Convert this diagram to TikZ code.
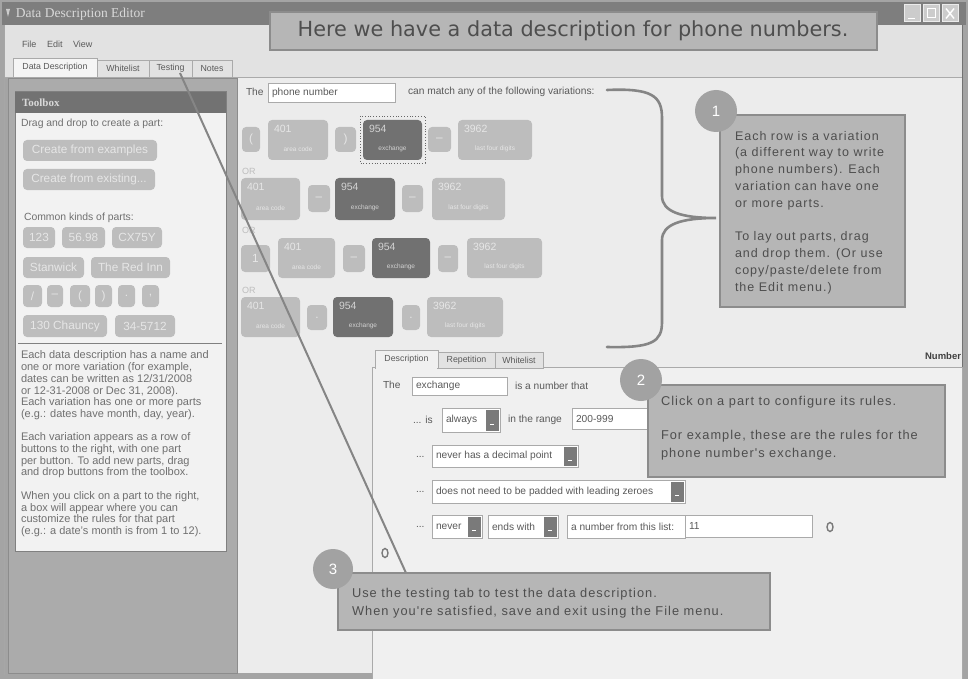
\documentclass[tikz,border=0pt]{standalone}
\usepackage{fontspec}
\setmainfont{Liberation Sans}
\newfontfamily\callfont[LetterSpace=8]{Liberation Sans}
\newfontfamily\titlefont{DejaVu Sans}
\newfontfamily\winfont{Liberation Serif}
\usetikzlibrary{calc,shapes.geometric}
\definecolor{bgmain}{HTML}{ECECEC}
\definecolor{winborder}{HTML}{A4A4A4}
\definecolor{titlebar}{HTML}{7E7E7E}
\definecolor{menubar}{HTML}{E2E2E2}
\definecolor{leftpanel}{HTML}{ABABAB}
\definecolor{toolbg}{HTML}{F2F2F2}
\definecolor{toolhead}{HTML}{727272}
\definecolor{btnL}{HTML}{BDBDBD}
\definecolor{btnLT}{HTML}{E6E6E6}
\definecolor{btnD}{HTML}{717171}
\definecolor{btnDT}{HTML}{D2D2D2}
\definecolor{uitext}{HTML}{5A5A5A}
\definecolor{paratext}{HTML}{707070}
\definecolor{boxdraw}{HTML}{AAAAAA}
\definecolor{ddgray}{HTML}{7A7A7A}
\definecolor{callfill}{HTML}{B6B6B6}
\definecolor{calldraw}{HTML}{8C8C8C}
\definecolor{circfill}{HTML}{A2A2A2}
\definecolor{calltxt}{HTML}{4E4E4E}
\definecolor{linegray}{HTML}{858585}
\definecolor{panelbg}{HTML}{F0F0F0}

\newcommand\pbtn[7]{\node[#2, anchor=north west, minimum width=#5pt, minimum height=#6pt] (#1) at (#3,#4) {#7};}
\newcommand\phpart[8]{%
  \pbtn{#1}{#2}{#3}{#4}{#5}{#6}{}
  \node[#2txt, anchor=north west, font=\fontsize{10.5}{11}\selectfont] at ([shift={(6pt,-5pt)}]#1.north west) {#7};
  \node[#2txt, font=\fontsize{6.5}{7}\selectfont] at ([shift={(0pt,-9pt)}]#1.center) {#8};}
\newcommand\ddown[6]{%
  \node[tbox, anchor=north west, minimum width={(#4-#2)*1pt}, minimum height={(#5-#3)*1pt}] (#1) at (#2,#3) {};
  \node[ui] at ([xshift=4pt]#1.west) {#6};
  \node[fill=ddgray, anchor=east, minimum width=13pt, minimum height={(#5-#3-3)*1pt}] (#1b) at ([xshift=-1.5pt]#1.east) {};
  \draw[white, line width=1pt] ([shift={(-2pt,-4pt)}]#1b.center) -- ++(4pt,0);}

\begin{document}
\begin{tikzpicture}[x=1pt,y=-1pt,
  every node/.style={inner sep=0pt, outer sep=0pt},
  lbtn/.style={fill=btnL, rounded corners=4pt, text=btnLT, font=\fontsize{11.8}{12}\selectfont},
  lbtntxt/.style={text=btnLT},
  dbtn/.style={fill=btnD, rounded corners=4pt, text=btnDT},
  dbtntxt/.style={text=btnDT},
  ui/.style={font=\fontsize{10.2}{11}\selectfont, text=uitext, anchor=west},
  tbox/.style={fill=white, draw=boxdraw, line width=0.6pt},
  tabsty/.style={draw=boxdraw, fill=menubar, font=\fontsize{8.8}{10}\selectfont, text=uitext, anchor=north west},
  callbox/.style={fill=callfill, draw=calldraw, line width=2.2pt, anchor=north west},
  callnum/.style={circle, fill=circfill, minimum size=42pt, text=white, font=\fontsize{15}{15}\selectfont},
  calltext/.style={font=\callfont\fontsize{12.5}{16.8}\selectfont, text=calltxt, align=left, anchor=north west},
  ortext/.style={font=\fontsize{9}{10}\selectfont, text=btnL, anchor=west},
  iconring/.style={ellipse, draw=ddgray, line width=1.4pt, minimum width=6pt, minimum height=9pt},
  winbtn/.style={fill=white!80!black, draw=white!92!black, line width=1pt, minimum width=16pt, minimum height=17pt, anchor=north west}
]
\useasboundingbox (0,0) rectangle (968,679);
% window frame
\fill[winborder] (0,0) rectangle (968,679);
\fill[titlebar] (2,2) rectangle (966,25);
\node[anchor=west, text=white!85!black, font=\winfont\fontsize{13.5}{14}\selectfont] (wintitle) at (16,14) {Data Description Editor};
\fill[white!80!black] (6,9) -- (10,9) -- (8,17) -- cycle;
\node[winbtn] (wb0) at (904,5) {};
\node[winbtn] (wb1) at (923,5) {};
\node[winbtn] (wb2) at (942,5) {};
\draw[white, line width=1.5pt] ([shift={(-4pt,-5pt)}]wb0.center) -- ++(7pt,0);
\draw[white, line width=1pt] ([shift={(-4pt,-4pt)}]wb1.center) rectangle ([shift={(4pt,5pt)}]wb1.center);
\draw[white, line width=1.4pt] ([shift={(-4pt,-5pt)}]wb2.center) -- ([shift={(4pt,5pt)}]wb2.center) ([shift={(-4pt,5pt)}]wb2.center) -- ([shift={(4pt,-5pt)}]wb2.center);
\fill[menubar] (5,25) rectangle (963,77);
\node[ui, font=\fontsize{9}{10}\selectfont] (mfile) at (22,44) {File};
\node[ui, font=\fontsize{9}{10}\selectfont] (medit) at (47,44) {Edit};
\node[ui, font=\fontsize{9}{10}\selectfont] (mview) at (73,44) {View};
% tabs
\node[tabsty, fill=white!96!black, minimum width=84pt, minimum height=19pt] (tDD) at (13,58) {Data Description};
\node[tabsty, minimum width=52pt, minimum height=17pt] (tWL) at (97,60) {Whitelist};
\node[tabsty, minimum width=43pt, minimum height=17pt] (tTest) at (149,60) {Testing};
\node[tabsty, minimum width=40pt, minimum height=17pt] (tNotes) at (192,60) {Notes};
% main area
\fill[bgmain] (237,77) rectangle (962,673);
\draw[boxdraw] (5,77) -- (962,77);
\draw[black!55, line width=1pt] (962,25) -- (962,673);
% left panel
\fill[leftpanel] (8,78) rectangle (237,673);
\draw[black!45] (8,78) rectangle (237,673);
\draw[black!35, line width=0.8pt] (4,25) -- (4,675);
% toolbox
\node[fill=toolbg, draw=black!50, line width=1pt, anchor=north west, minimum width=211pt, minimum height=459pt] (toolbox) at (15,92) {};
\node[fill=toolhead, anchor=north west, minimum width=211pt, minimum height=21pt] (toolhead) at (15,92) {};
\node[anchor=west, text=white!85!black, font=\winfont\bfseries\fontsize{11}{12}\selectfont] (toollbl) at (22,103) {Toolbox};
\node[ui, text=paratext, font=\fontsize{10.4}{11}\selectfont] (dragl) at (21,124) {Drag and drop to create a part:};
\pbtn{cfe}{lbtn}{23}{140}{134}{21}{Create from examples}
\pbtn{cfx}{lbtn}{23}{169}{132}{21}{Create from existing...}
\node[ui, text=paratext, font=\fontsize{10.4}{11}\selectfont] (commonl) at (24,218) {Common kinds of parts:};
\pbtn{k1}{lbtn}{23}{227}{32}{21}{123}
\pbtn{k2}{lbtn}{62}{227}{43}{21}{56.98}
\pbtn{k3}{lbtn}{112}{227}{50}{21}{CX75Y}
\pbtn{k4}{lbtn}{23}{257}{61}{21}{Stanwick}
\pbtn{k5}{lbtn}{91}{257}{79}{21}{The Red Inn}
\pbtn{s1}{lbtn}{23}{285}{19}{22}{/}
\pbtn{s2}{lbtn}{47}{285}{16}{22}{--}
\pbtn{s3}{lbtn}{70}{285}{20}{22}{(}
\pbtn{s4}{lbtn}{95}{285}{17}{22}{)}
\pbtn{s5}{lbtn}{118}{285}{17}{22}{.}
\pbtn{s6}{lbtn}{142}{285}{17}{22}{,}
\pbtn{k6}{lbtn}{23}{315}{84}{22}{130 Chauncy}
\pbtn{k7}{lbtn}{115}{315}{60}{22}{34-5712}
\draw[black!50, line width=0.8pt] (18,343) -- (222,343);
\node[anchor=north west, align=left, text=paratext, font=\fontsize{11}{11.7}\selectfont] (para) at (21,351) {Each data description has a name and\\one or more variation (for example,\\dates can be written as 12/31/2008\\or 12-31-2008 or Dec 31, 2008).\\Each variation has one or more parts\\(e.g.: dates have month, day, year).\\[11.7pt]Each variation appears as a row of\\buttons to the right, with one part\\per button. To add new parts, drag\\and drop buttons from the toolbox.\\[11.7pt]When you click on a part to the right,\\a box will appear where you can\\customize the rules for that part\\(e.g.: a date's month is from 1 to 12).};
% header line of variations
\node[ui] (thel) at (246,92) {The};
\node[tbox, anchor=north west, minimum width=127pt, minimum height=19pt] (namebox) at (268,83) {};
\node[ui] (namel) at ([xshift=4pt]namebox.west) {phone number};
\node[ui] (matchl) at (408,92) {can match any of the following variations:};
% row 1
\pbtn{r1a}{lbtn}{242}{127}{18}{25}{(}
\phpart{r1b}{lbtn}{268}{120}{60}{40}{401}{area code}
\pbtn{r1c}{lbtn}{335}{127}{21}{25}{)}
\phpart{r1d}{dbtn}{363}{120}{59}{40}{954}{exchange}
\draw[black!60, dotted, line width=0.8pt] (360,116) rectangle (425,163);
\pbtn{r1e}{lbtn}{428}{127}{23}{25}{--}
\phpart{r1f}{lbtn}{458}{120}{74}{40}{3962}{last four digits}
\node[ortext] (or1) at (242,171) {OR};
% row 2
\phpart{r2a}{lbtn}{241}{178}{59}{42}{401}{area code}
\pbtn{r2b}{lbtn}{308}{185}{22}{27}{--}
\phpart{r2c}{dbtn}{335}{178}{60}{42}{954}{exchange}
\pbtn{r2d}{lbtn}{402}{185}{21}{27}{--}
\phpart{r2e}{lbtn}{432}{178}{73}{42}{3962}{last four digits}
\node[ortext] (or2) at (242,230) {OR};
% row 3
\pbtn{r3a}{lbtn}{241}{245}{29}{27}{1}
\phpart{r3b}{lbtn}{278}{238}{57}{40}{401}{area code}
\pbtn{r3c}{lbtn}{343}{245}{22}{27}{--}
\phpart{r3d}{dbtn}{372}{238}{58}{40}{954}{exchange}
\pbtn{r3e}{lbtn}{438}{245}{20}{27}{--}
\phpart{r3f}{lbtn}{467}{238}{75}{40}{3962}{last four digits}
\node[ortext] (or3) at (242,290) {OR};
% row 4
\phpart{r4a}{lbtn}{241}{297}{59}{40}{401}{area code}
\pbtn{r4b}{lbtn}{307}{305}{20}{25}{.}
\phpart{r4c}{dbtn}{333}{297}{60}{40}{954}{exchange}
\pbtn{r4d}{lbtn}{402}{305}{18}{25}{.}
\phpart{r4e}{lbtn}{427}{297}{76}{40}{3962}{last four digits}
% brace
\draw[linegray, line width=2.6pt, line cap=round] (607,90) .. controls (652,88) and (662,96) .. (662,118) -- (662,196) .. controls (662,212) and (682,218) .. (716,218) .. controls (682,218) and (662,224) .. (662,240) -- (662,322) .. controls (662,342) and (652,348) .. (607,347);
% description panel
\node[font=\bfseries\fontsize{9.5}{10}\selectfont, text=black!75, anchor=east] (numberl) at (961,356) {Number};
\node[fill=panelbg, draw=boxdraw, line width=0.8pt, anchor=north west, minimum width=590pt, minimum height=312pt] (panel) at (372,367) {};
\node[tabsty, minimum width=57pt, minimum height=16pt] (tRep) at (438,352) {Repetition};
\node[tabsty, minimum width=48pt, minimum height=16pt] (tWL2) at (495,352) {Whitelist};
\node[tabsty, fill=panelbg, minimum width=63pt, minimum height=18pt] (tDesc) at (375,350) {Description};
\fill[panelbg] (376,366) rectangle (437,369);
\node[ui] (the2) at (383,385) {The};
\node[tbox, anchor=north west, minimum width=95pt, minimum height=18pt] (exbox) at (412,377) {};
\node[ui] (exl) at ([xshift=4pt]exbox.west) {exchange};
\node[ui] (numthat) at (515,386) {is a number that};
\node[ui] (isl) at (413,420) {... is};
\ddown{dAlways}{442}{408}{500}{432}{always}
\node[ui] (rangel) at (508,420) {in the range};
\node[tbox, anchor=north west, minimum width=80pt, minimum height=21pt] (rangebox) at (572,408) {};
\node[ui] (rangev) at ([xshift=4pt]rangebox.west) {200-999};
\node[ui] (dots1) at (416,457) {...};
\ddown{dDec}{432}{445}{578}{467}{never has a decimal point}
\node[ui] (dots2) at (416,492) {...};
\ddown{dPad}{432}{480}{685}{503}{does not need to be padded with leading zeroes}
\node[ui] (dots3) at (416,527) {...};
\ddown{dNever}{432}{515}{482}{538}{never}
\ddown{dEnds}{488}{515}{558}{538}{ends with}
\node[tbox, anchor=north west, minimum width=118pt, minimum height=23pt] (listl) at (567,515) {};
\node[ui] (listt) at ([xshift=4pt]listl.west) {a number from this list:};
\node[tbox, anchor=north west, minimum width=127pt, minimum height=22pt] (listbox) at (685,515) {};
\node[ui] (listv) at ([xshift=4pt]listbox.west) {11};
\node[iconring] (ic1) at (830,527) {};
\node[iconring] (ic2) at (385,553) {};
% connector from Testing tab to callout 3
\coordinate (tabpt) at (180,73);
\coordinate (c3top) at (406,573);
\draw[linegray, line width=2pt] (tabpt) -- (c3top);
% title callout
\node[callbox, minimum width=607pt, minimum height=38pt, line width=2pt] (tcall) at (270,12) {};
\node[text=calltxt, font=\titlefont\fontsize{20.8}{22}\selectfont] (ttext) at (573,31) {Here we have a data description for phone numbers.};
% callout 1
\node[callbox, minimum width=185pt, minimum height=192pt] (c1) at (720,115) {};
\node[callnum] (n1) at (716,111) {1};
\node[calltext] (c1t) at (735,131) {Each row is a variation\\(a different way to write\\phone numbers). Each\\variation can have one\\or more parts.\\[16.8pt]To lay out parts, drag\\and drop them. (Or use\\copy/paste/delete from\\the Edit menu.)};
% callout 2
\node[callbox, minimum width=297pt, minimum height=92pt] (c2) at (648,385) {};
\node[callnum] (n2) at (641,380) {2};
\node[calltext, font=\callfont\fontsize{12.8}{18}\selectfont] (c2t) at (661,396) {Click on a part to configure its rules.\\[16pt]For example, these are the rules for the\\phone number's exchange.};
% callout 3
\node[callbox, minimum width=432pt, minimum height=57pt] (c3) at (338,573) {};
\node[callnum, minimum size=40pt] (n3) at (333,569) {3};
\node[calltext, font=\callfont\fontsize{12.8}{18}\selectfont] (c3t) at (352,588) {Use the testing tab to test the data description.\\When you're satisfied, save and exit using the File menu.};
\end{tikzpicture}
\end{document}
